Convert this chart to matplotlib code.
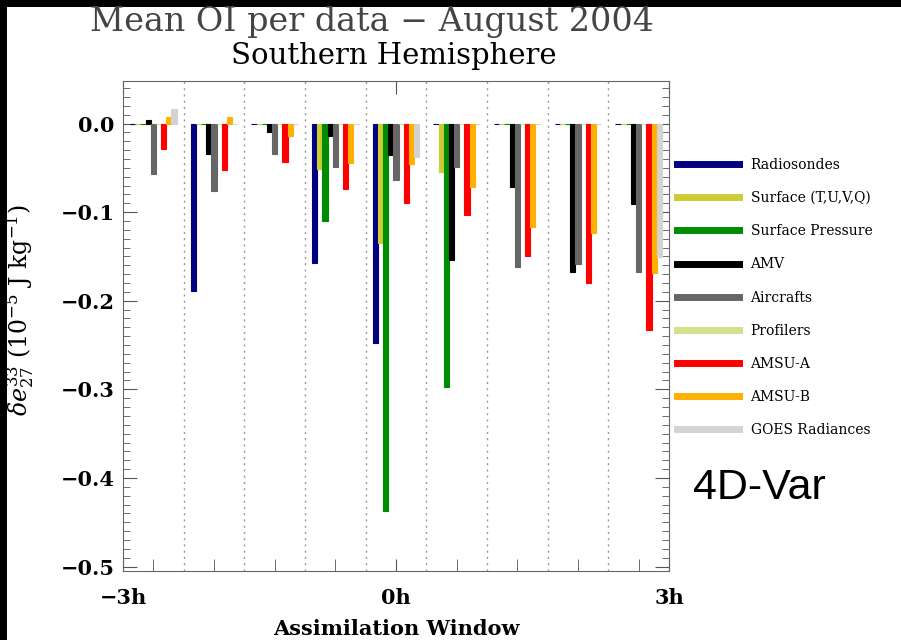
import numpy as np
import matplotlib
matplotlib.use("Agg")
import matplotlib.pyplot as plt
from matplotlib.patches import Rectangle
from matplotlib.lines import Line2D

# data (one value per 40 min slot, 9 slots from -3h to 3h)
series = ["Radiosondes", "Surface (T,U,V,Q)", "Surface Pressure", "AMV", "Aircrafts",
          "Profilers", "AMSU-A", "AMSU-B", "GOES Radiances"]
colors = ["#000080", "#cccc33", "#008c00", "#000000", "#666666",
          "#d4e08a", "#ff0000", "#ffb000", "#d3d3d3"]

radiosondes = [0.0, -0.189, 0.0, -0.157, -0.248, 0.0, 0.0, 0.0, 0.0]
surface_tuvq = [0.0, 0.0, 0.0, -0.051, -0.135, -0.055, 0.0, 0.0, 0.0]
surface_pres = [0.0, 0.0, 0.0, -0.110, -0.437, -0.297, 0.0, 0.0, 0.0]
amv = [0.0045, -0.034, -0.0094, -0.0136, -0.036, -0.154, -0.072, -0.168, -0.091]
aircrafts = [-0.057, -0.076, -0.034, -0.049, -0.064, -0.049, -0.162, -0.159, -0.167]
profilers = [0.0, 0.0, 0.0, 0.0, 0.0, 0.0, 0.0, 0.0, 0.0]
amsua = [-0.029, -0.053, -0.043, -0.074, -0.090, -0.103, -0.150, -0.180, -0.233]
amsub = [0.0075, 0.0075, -0.0143, -0.045, -0.046, -0.072, -0.117, -0.124, -0.169]
goes = [0.0166, 0.0, 0.0, 0.0, -0.038, 0.0, 0.0, 0.0, -0.151]

values = [radiosondes, surface_tuvq, surface_pres, amv, aircrafts,
          profilers, amsua, amsub, goes]

slot = 2.0 / 3.0
centers = -3 + slot * (np.arange(9) + 0.5)
bar_w = 0.057

fig = plt.figure(figsize=(9.01, 6.40), dpi=100)
fig.patch.set_facecolor("black")
fig.add_artist(Rectangle((7 / 901, 0), 1, 1 - 7 / 640, transform=fig.transFigure,
                         facecolor="white", edgecolor="none", zorder=-10))

ax = fig.add_axes([123 / 901, 1 - 571 / 640, 546 / 901, 490 / 640])

for i, (vals, c) in enumerate(zip(values, colors)):
    ax.bar(centers + (i - 4) * bar_w, vals, width=bar_w, color=c,
           edgecolor=c, linewidth=0.8, zorder=3)

# dotted separators between time slots
for b in -3 + slot * np.arange(1, 9):
    ax.axvline(b, color="#999999", linestyle=(0, (1.5, 3)), linewidth=1.0, zorder=1)

ax.set_xlim(-3, 3)
ax.set_ylim(-0.505, 0.048)

serif = "DejaVu Serif"
ax.set_xticks([-3, 0, 3])
ax.set_xticklabels(["\u22123h", "0h", "3h"], family=serif, fontsize=15, fontweight="bold")
ax.set_xticks([c for c in centers if abs(c) > 1e-6], minor=True)
ax.tick_params(axis="x", which="major", direction="in", length=9, top=True,
               color="#555555", pad=12)
ax.tick_params(axis="x", which="minor", direction="in", length=9, color="#555555")

ax.set_yticks(np.arange(-0.5, 0.01, 0.1))
ax.set_yticklabels(["\u22120.5", "\u22120.4", "\u22120.3", "\u22120.2", "\u22120.1", "0.0"],
                   family=serif, fontsize=15, fontweight="bold")
ax.set_yticks(np.arange(-0.5, 0.045, 0.01), minor=True)
ax.tick_params(axis="y", which="major", direction="in", length=10, right=True,
               color="#555555", pad=6)
ax.tick_params(axis="y", which="minor", direction="in", length=5, right=True,
               color="#555555")
for s in ax.spines.values():
    s.set_color("#666666")

plt.rcParams["mathtext.fontset"] = "dejavuserif"
fig.text(20 / 901, 1 - 310 / 640,
         r"$\delta e^{33}_{27}\ (10^{-5}\ \mathrm{J\ kg^{-1}})$",
         rotation=90, ha="center", va="center", fontsize=17, fontweight="bold")
fig.text(396 / 901, 1 - 629 / 640, "Assimilation Window", family=serif,
         fontsize=15, fontweight="bold", ha="center", va="center")

fig.text(372 / 901, 1 - 22 / 640, "Mean OI per data \u2212 August 2004", family=serif,
         fontsize=24, color="#444444", ha="center", va="center")
fig.text(394 / 901, 1 - 56 / 640, "Southern Hemisphere", family=serif,
         fontsize=21, ha="center", va="center")

handles = [Line2D([], [], color=c, linewidth=5) for c in colors]
fig.legend(handles, series, loc="upper left", bbox_to_anchor=(670 / 901, 1 - 151 / 640),
           frameon=False, prop={"family": serif, "size": 10}, handlelength=4.5,
           handletextpad=0.8, labelspacing=1.38, borderpad=0)

fig.text(693 / 901, 1 - 488 / 640, "4D-Var", family="Liberation Sans", fontsize=31,
         ha="left", va="center")

fig.savefig("out.png", dpi=100, facecolor=fig.get_facecolor())
